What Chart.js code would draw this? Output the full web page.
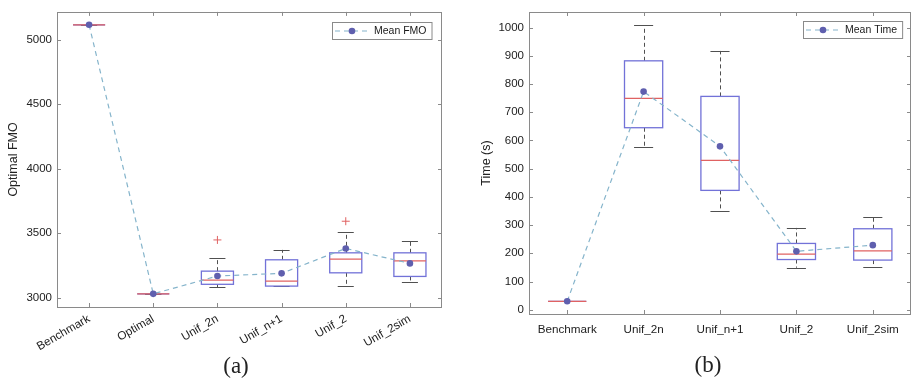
<!DOCTYPE html>
<html>
<head>
<meta charset="utf-8">
<script src="https://cdn.jsdelivr.net/npm/chart.js@4.4.1/dist/chart.umd.min.js"></script>
<style>
  body { margin: 0; background: #fff; width: 915px; height: 379px; position: relative; overflow: hidden; }
  canvas { position: absolute; top: 0; }
  #chartA { left: 0; }
  #chartB { left: 460px; }
  .cap { position: absolute; font-family: 'Liberation Serif', 'DejaVu Serif', serif; font-size: 23px; color: #222; transform: translateX(-50%); line-height: 26px; }
</style>
</head>
<body>
<canvas id="chartA" width="460" height="379"></canvas>
<canvas id="chartB" width="455" height="379"></canvas>
<div class="cap" style="left:236px; top:353px">(a)</div>
<div class="cap" style="left:708px; top:352px">(b)</div>

<script>
// (a) FMO óptimo por método
const catsA = ['Benchmark', 'Optimal', 'Unif_2n', 'Unif_n+1', 'Unif_2', 'Unif_2sim'];
const loA   = [5116, 3030, 3080, 3090, 3088, 3124];
const q1A   = [5116, 3030, 3104, 3090, 3193, 3165];
const medA  = [5116, 3030, 3137, 3129, 3299, 3286];
const q3A   = [5116, 3030, 3206, 3294, 3348, 3348];
const hiA   = [5116, 3030, 3305, 3371, 3508, 3441];
const meanA = [5116, 3030, 3168, 3189, 3382, 3266];
const outA  = [[], [], [3448], [], [3593], []];
const yTicksA = [3000, 3500, 4000, 4500, 5000];

// (b) tempo de execução
const catsB = ['Benchmark', 'Unif_2n', 'Unif_n+1', 'Unif_2', 'Unif_2sim'];
const loB   = [30, 577, 351, 149, 153];
const q1B   = [30, 645, 423, 178, 176];
const medB  = [30, 749, 529, 197, 209];
const q3B   = [30, 882, 756, 235, 287];
const hiB   = [30, 1008, 917, 290, 329];
const meanB = [30, 773, 579, 207, 229];
const outB  = [[], [], [], [], []];
const yTicksB = [0, 100, 200, 300, 400, 500, 600, 700, 800, 900, 1000];

const FONT = "'Liberation Sans', Arial, sans-serif";
const TXT = '#222';

const crisp = v => Math.round(v) + 0.5;

const boxPlotPlugin = {
  id: 'boxPlot',
  beforeDatasetsDraw(chart, args, o) {
    const { ctx, chartArea: a, scales: { x, y } } = chart;
    const py = v => y.getPixelForValue(v);
    ctx.save();
    ctx.beginPath();
    ctx.rect(a.left, a.top, a.right - a.left, a.bottom - a.top);
    ctx.clip();
    o.med.forEach((m, i) => {
      const cx = x.getPixelForValue(i + 1);
      const hw = x.getPixelForValue(i + 1.25) - cx;
      const cw = hw / 2;
      // bigodes
      ctx.lineWidth = 1;
      ctx.strokeStyle = '#505050';
      ctx.setLineDash([4, 3]);
      ctx.beginPath();
      ctx.moveTo(crisp(cx), py(o.q3[i])); ctx.lineTo(crisp(cx), py(o.hi[i]));
      ctx.moveTo(crisp(cx), py(o.q1[i])); ctx.lineTo(crisp(cx), py(o.lo[i]));
      ctx.stroke();
      ctx.setLineDash([]);
      ctx.beginPath();
      ctx.moveTo(cx - cw, crisp(py(o.hi[i]))); ctx.lineTo(cx + cw, crisp(py(o.hi[i])));
      ctx.moveTo(cx - cw, crisp(py(o.lo[i]))); ctx.lineTo(cx + cw, crisp(py(o.lo[i])));
      ctx.stroke();
      // caixa
      ctx.strokeStyle = '#7272d8';
      ctx.lineWidth = 1.3;
      ctx.strokeRect(cx - hw, py(o.q3[i]), 2 * hw, py(o.q1[i]) - py(o.q3[i]));
      // mediana
      ctx.strokeStyle = '#e06262';
      ctx.lineWidth = 1.2;
      ctx.beginPath();
      ctx.moveTo(cx - hw, py(m)); ctx.lineTo(cx + hw, py(m));
      ctx.stroke();
      // outliers
      ctx.lineWidth = 1;
      (o.out[i] || []).forEach(v => {
        const yy = py(v);
        ctx.beginPath();
        ctx.moveTo(cx - 4, yy); ctx.lineTo(cx + 4, yy);
        ctx.moveTo(cx, yy - 4); ctx.lineTo(cx, yy + 4);
        ctx.stroke();
      });
    });
    ctx.restore();
  },
  afterDraw(chart, args, o) {
    const { ctx, chartArea: a, scales: { x, y } } = chart;
    ctx.save();
    // moldura + ticks para dentro
    ctx.strokeStyle = '#8a8a8a';
    ctx.lineWidth = 1;
    ctx.strokeRect(crisp(a.left), crisp(a.top), Math.round(a.right - a.left) - 1, Math.round(a.bottom - a.top));
    ctx.beginPath();
    x.ticks.forEach(t => {
      const px = crisp(x.getPixelForValue(t.value));
      ctx.moveTo(px, a.bottom); ctx.lineTo(px, a.bottom - 4);
      ctx.moveTo(px, a.top); ctx.lineTo(px, a.top + 4);
    });
    y.ticks.forEach(t => {
      const pyy = crisp(y.getPixelForValue(t.value));
      ctx.moveTo(a.left, pyy); ctx.lineTo(a.left + 4, pyy);
      ctx.moveTo(a.right, pyy); ctx.lineTo(a.right - 4, pyy);
    });
    ctx.stroke();

    // legenda
    const ds = chart.data.datasets[0];
    ctx.font = '10.5px ' + FONT;
    const tw = ctx.measureText(ds.label).width;
    const h = 17;
    const w = 3 + 34 + 5 + tw + 5;
    const bx = Math.round(a.right - o.legendInset - w);
    const by = Math.round(a.top + o.legendInset);
    ctx.fillStyle = '#fff';
    ctx.fillRect(bx, by, w, h);
    ctx.strokeStyle = '#8a8a8a';
    ctx.strokeRect(bx + 0.5, by + 0.5, w, h);
    const ly = by + h / 2 + 0.5;
    ctx.strokeStyle = ds.borderColor;
    ctx.lineWidth = ds.borderWidth;
    ctx.setLineDash(ds.borderDash);
    ctx.beginPath();
    ctx.moveTo(bx + 3, ly); ctx.lineTo(bx + 37, ly);
    ctx.stroke();
    ctx.setLineDash([]);
    ctx.fillStyle = ds.pointBackgroundColor;
    ctx.beginPath();
    ctx.arc(bx + 20, ly, ds.pointRadius, 0, Math.PI * 2);
    ctx.fill();
    ctx.fillStyle = '#1a1a1a';
    ctx.textBaseline = 'middle';
    ctx.fillText(ds.label, bx + 42, ly + 0.5);
    ctx.restore();
  }
};

function buildPanel(id, cfg) {
  const ctx = document.getElementById(id).getContext('2d');
  return new Chart(ctx, {
    type: 'line',
    data: {
      datasets: [{
        label: cfg.label,
        data: cfg.cats.map((c, i) => ({ x: i + 1, y: cfg.mean[i] })),
        borderColor: '#85b4cb',
        borderWidth: 1.2,
        borderDash: [5, 4],
        pointRadius: 3.3,
        pointBackgroundColor: '#5f5fae',
        pointBorderColor: '#5f5fae',
        pointBorderWidth: 0,
        fill: false,
        tension: 0
      }]
    },
    options: {
      responsive: false,
      animation: false,
      layout: { padding: cfg.padding },
      plugins: {
        legend: { display: false },
        tooltip: { enabled: false },
        boxPlot: {
          lo: cfg.lo, q1: cfg.q1, med: cfg.med, q3: cfg.q3, hi: cfg.hi, out: cfg.out,
          legendInset: cfg.legendInset
        }
      },
      scales: {
        x: {
          type: 'linear',
          min: 0.5,
          max: cfg.cats.length + 0.5,
          afterBuildTicks: s => { s.ticks = cfg.cats.map((c, i) => ({ value: i + 1 })); },
          afterFit: s => { s.height = cfg.xHeight; },
          grid: { display: false, drawTicks: false },
          border: { display: false },
          ticks: {
            autoSkip: false,
            maxRotation: cfg.rot,
            minRotation: cfg.rot,
            padding: cfg.xPad,
            color: TXT,
            font: { family: FONT, size: 11.7 },
            callback: (v, i) => cfg.cats[i]
          }
        },
        y: {
          min: cfg.yMin,
          max: cfg.yMax,
          afterBuildTicks: s => { s.ticks = cfg.yTicks.map(v => ({ value: v })); },
          afterFit: s => { s.width = cfg.yWidth; },
          grid: { display: false, drawTicks: false },
          border: { display: false },
          ticks: {
            padding: 5,
            color: TXT,
            font: { family: FONT, size: 11.5 },
            callback: v => String(v)
          },
          title: {
            display: true,
            text: cfg.yTitle,
            color: TXT,
            font: { family: FONT, size: 12.5 },
            padding: { top: cfg.titlePad, bottom: 0 }
          }
        }
      }
    },
    plugins: [boxPlotPlugin]
  });
}

buildPanel('chartA', {
  label: 'Mean FMO', cats: catsA, lo: loA, q1: q1A, med: medA, q3: q3A, hi: hiA, mean: meanA, out: outA,
  yMin: 2928, yMax: 5216, yTicks: yTicksA, yTitle: 'Optimal FMO',
  padding: { left: 0, top: 11, right: 18, bottom: 0 },
  xHeight: 72, yWidth: 57, rot: 30, xPad: 5, titlePad: 6.5, legendInset: 10
});

buildPanel('chartB', {
  label: 'Mean Time', cats: catsB, lo: loB, q1: q1B, med: medB, q3: q3B, hi: hiB, mean: meanB, out: outB,
  yMin: -15, yMax: 1055, yTicks: yTicksB, yTitle: 'Time (s)',
  padding: { left: 0, top: 12, right: 1, bottom: 0 },
  xHeight: 65, yWidth: 69, rot: 0, xPad: 9, titlePad: 19, legendInset: 9
});
</script>
</body>
</html>
